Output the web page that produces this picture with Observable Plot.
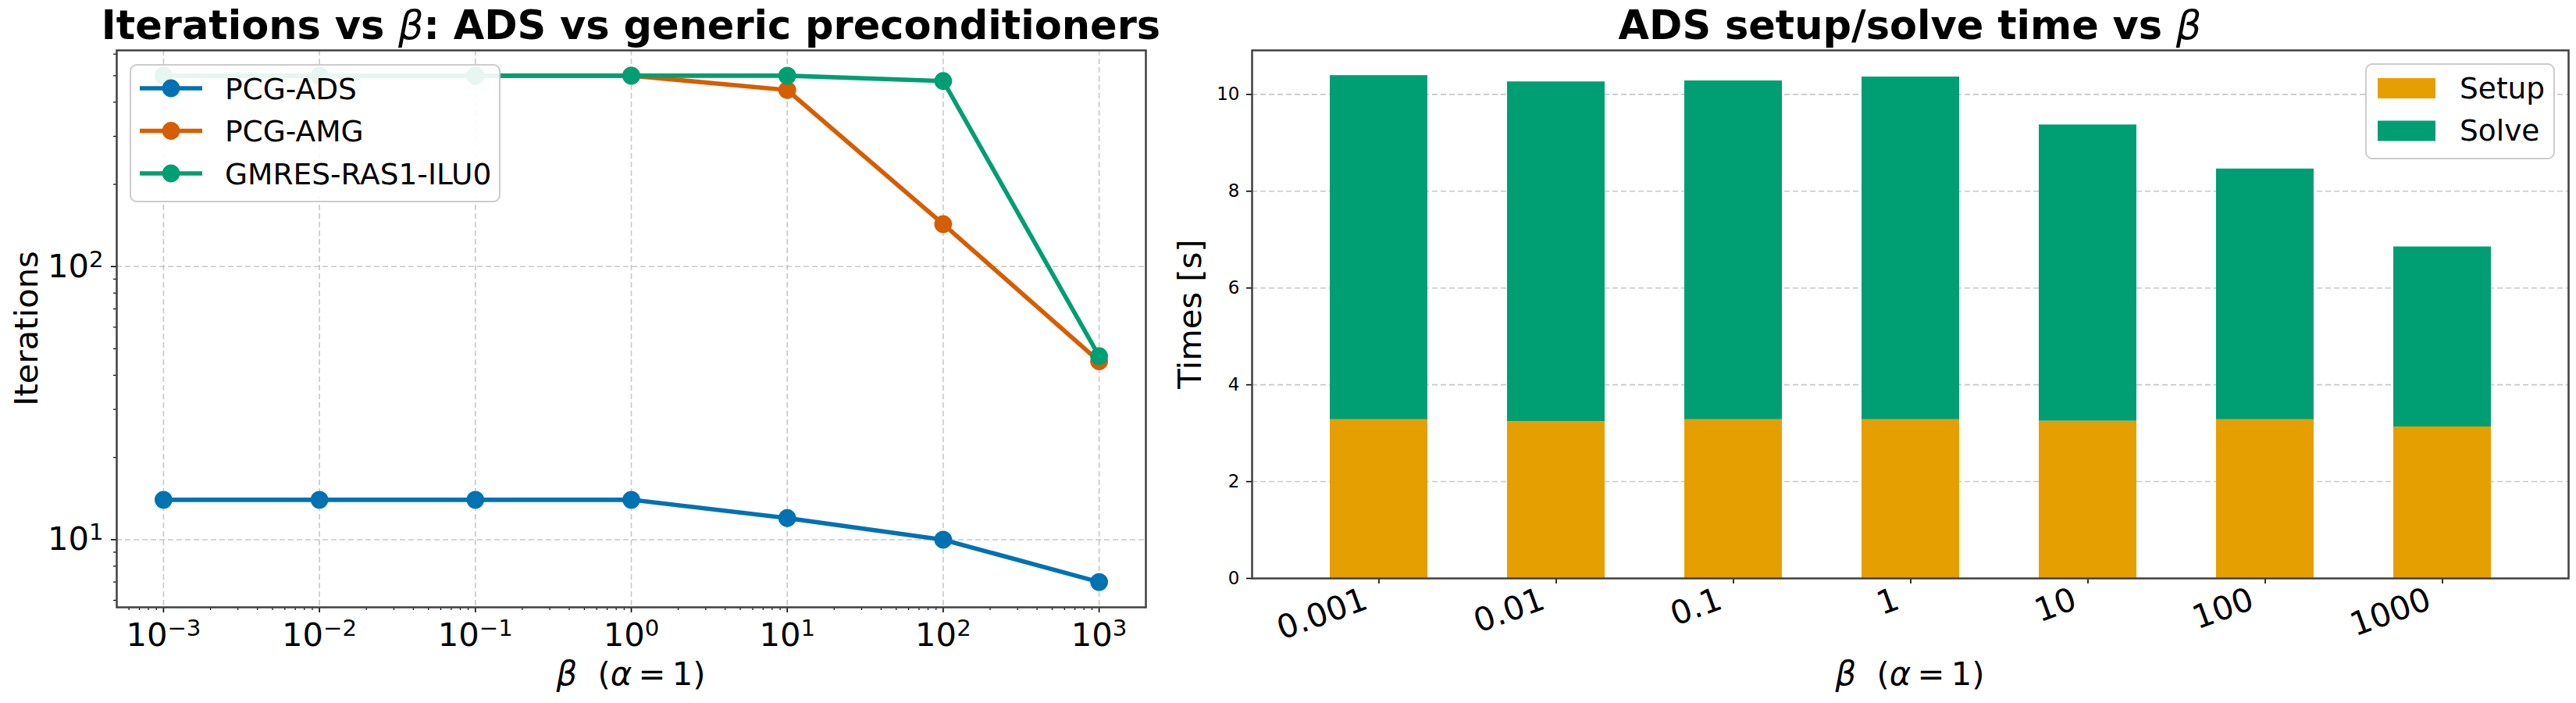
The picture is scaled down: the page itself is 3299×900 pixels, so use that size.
<!DOCTYPE html>
<html>
<head>
<meta charset="utf-8">
<script src="https://cdn.jsdelivr.net/npm/d3@7"></script>
<script src="https://cdn.jsdelivr.net/npm/@observablehq/plot@0.6"></script>
<style>
  html, body { margin: 0; padding: 0; background: #fff; }
  #fig { position: relative; width: 3299px; height: 900px; overflow: hidden; font-family: "DejaVu Sans", sans-serif; }
  #fig svg { position: absolute; top: 0; max-width: none; }
</style>
</head>
<body>
<div id="fig"></div>
<script>
// ---- data ----
const betaValues = [1e-3, 1e-2, 1e-1, 1, 10, 100, 1000];
const betaLabels = ["0.001", "0.01", "0.1", "1", "10", "100", "1000"];

const solverNames = ["PCG-ADS", "PCG-AMG", "GMRES-RAS1-ILU0"];
const itersADS = [14, 14, 14, 14, 12, 10, 7];
const itersAMG = [500, 500, 500, 500, 443, 143, 45];
const itersGMRES = [500, 500, 500, 500, 500, 478, 47];
const solverColors = ["#0072B2", "#D55E00", "#009E73"];

const phaseNames = ["Setup", "Solve"];
const setupTimes = [3.28, 3.24, 3.28, 3.28, 3.25, 3.28, 3.13];
const solveTimes = [7.11, 7.02, 7.00, 7.08, 6.12, 5.18, 3.72];
const phaseColors = ["#E69F00", "#009E73"];

const betaTicks = [1e-3, 1e-2, 1e-1, 1, 10, 100, 1000];
const iterTicks = [10, 100];
const timeTicks = [0, 2, 4, 6, 8, 10];

// ---- helpers ----
const FONT = "'DejaVu Sans', sans-serif";
const fig = document.getElementById("fig");

function logPad(lo, hi) {
  const a = Math.log10(lo), b = Math.log10(hi), m = (b - a) * 0.05;
  return [10 ** (a - m), 10 ** (b + m)];
}
function minorLog([lo, hi]) {
  const out = [];
  for (let k = Math.floor(Math.log10(lo)); k <= Math.ceil(Math.log10(hi)); k++)
    for (let m = 2; m <= 9; m++) { const v = m * 10 ** k; if (v >= lo && v <= hi) out.push(v); }
  return out;
}
const fmtPow = d => "10^" + Math.round(Math.log10(d));

// turn "10^k" tick strings into 10 with a raised exponent
function superscripts(svg) {
  d3.select(svg).selectAll("text").each(function () {
    const m = /^10\^(-?\d+)$/.exec(this.textContent);
    if (!m) return;
    const t = d3.select(this);
    t.text(null);
    t.append("tspan").text("10");
    t.append("tspan").attr("dy", "-0.45em").attr("font-size", "0.7em").text(m[1].replace("-", "\u2212"));
  });
}
function richText(svg, x, y, parts, {size, weight = "normal", rotate = 0}) {
  const t = d3.select(svg).append("text")
    .attr("transform", `translate(${x},${y}) rotate(${rotate})`)
    .attr("text-anchor", "middle").attr("font-size", size).attr("font-weight", weight)
    .attr("font-family", FONT).attr("fill", "black").style("white-space", "pre");
  for (const [s, italic] of parts) {
    const ts = t.append("tspan").text(s);
    if (italic) ts.attr("font-style", "italic").attr("font-weight", "normal");
  }
}

const gridStyle = {stroke: "#b0b0b0", strokeOpacity: 0.7, strokeWidth: 1.6, strokeDasharray: "7,4"};
const frameStyle = {stroke: "#404040", strokeWidth: 2.5};
const svgStyle = {fontFamily: FONT, color: "black", background: "transparent", overflow: "visible"};

// ---- left panel: iterations vs beta (log-log) ----
const series = [itersADS, itersAMG, itersGMRES];
const iterRows = series.flatMap((vals, i) => vals.map((v, j) => ({solver: solverNames[i], beta: betaValues[j], iters: v})));
const xDom = logPad(d3.min(betaValues), d3.max(betaValues));
const yDom = logPad(d3.min(iterRows, d => d.iters), d3.max(iterRows, d => d.iters));

const left = Plot.plot({
  width: 1490, height: 900,
  marginLeft: 149, marginRight: 23, marginTop: 64, marginBottom: 123,
  style: svgStyle,
  x: {type: "log", domain: xDom, axis: null, label: null},
  y: {type: "log", domain: yDom, axis: null, label: null},
  marks: [
    Plot.gridX(betaTicks, gridStyle),
    Plot.gridY(iterTicks, gridStyle),
    ...solverNames.flatMap((name, i) => {
      const rows = iterRows.filter(d => d.solver === name);
      return [
        Plot.line(rows, {x: "beta", y: "iters", stroke: solverColors[i], strokeWidth: 5.6, strokeLinejoin: "round"}),
        Plot.dot(rows, {x: "beta", y: "iters", fill: solverColors[i], r: 11.4})
      ];
    }),
    Plot.axisX(minorLog(xDom), {tickSize: 4, strokeWidth: 1.2, tickFormat: () => "", label: null}),
    Plot.axisX(betaTicks, {tickSize: 7, strokeWidth: 1.6, tickPadding: 13, tickFormat: fmtPow, fontSize: 41.7, label: null}),
    Plot.axisY(minorLog(yDom), {tickSize: 4, strokeWidth: 1.2, tickFormat: () => "", label: null}),
    Plot.axisY(iterTicks, {tickSize: 7, strokeWidth: 1.6, tickPadding: 10, tickFormat: fmtPow, fontSize: 41.7, label: null}),
    Plot.frame(frameStyle)
  ]
});
superscripts(left);
left.style.left = "0px";
fig.appendChild(left);

// legend
{
  const g = d3.select(left).append("g").attr("font-family", FONT).attr("text-anchor", "start");
  g.append("rect").attr("x", 167).attr("y", 83).attr("width", 473).attr("height", 175).attr("rx", 8)
    .attr("fill", "white").attr("fill-opacity", 0.9).attr("stroke", "#cccccc").attr("stroke-width", 2);
  solverNames.forEach((name, i) => {
    const cy = 113 + i * 54.5;
    g.append("line").attr("x1", 179).attr("x2", 259).attr("y1", cy).attr("y2", cy)
      .attr("stroke", solverColors[i]).attr("stroke-width", 5.6);
    g.append("circle").attr("cx", 219).attr("cy", cy).attr("r", 11.4).attr("fill", solverColors[i]);
    g.append("text").attr("x", 288).attr("y", cy + 13.5).attr("text-anchor", "start")
      .attr("font-size", 37.5).attr("fill", "black").text(name);
  });
}
richText(left, 808, 50, [["Iterations vs "], ["β", true], [": ADS vs generic preconditioners"]], {size: 51, weight: "bold"});
richText(left, 48, 420.5, [["Iterations"]], {size: 41.7, rotate: -90});
richText(left, 808, 877, [["β", true], ["  ("], ["α", true], ["\u2009=\u20091)"]], {size: 41.7});

// ---- right panel: stacked setup/solve times ----
const timeRows = betaLabels.flatMap((b, j) => [
  {beta: b, phase: phaseNames[0], t: setupTimes[j]},
  {beta: b, phase: phaseNames[1], t: solveTimes[j]}
]);
const tMax = d3.max(betaLabels, (b, j) => setupTimes[j] + solveTimes[j]) * 1.05;

const right = Plot.plot({
  width: 1809, height: 900,
  marginLeft: 113, marginRight: 10, marginTop: 64, marginBottom: 160,
  style: svgStyle,
  x: {type: "band", domain: betaLabels, paddingInner: 0.45, paddingOuter: 0.4225, axis: null, label: null},
  y: {domain: [0, tMax], axis: null, label: null},
  color: {domain: phaseNames, range: phaseColors},
  marks: [
    Plot.gridY(timeTicks.filter(v => v > 0), gridStyle),
    Plot.barY(timeRows, Plot.stackY({x: "beta", y: "t", fill: "phase", inset: 0})),
    Plot.axisY(timeTicks, {tickSize: 7, strokeWidth: 1.6, tickPadding: 9, fontSize: 23, tickFormat: d => String(d), label: null}),
    Plot.axisX({tickSize: 7, strokeWidth: 1.6, tickFormat: () => "", label: null}),
    Plot.text(betaLabels, {x: d => d, frameAnchor: "bottom", dx: -12, dy: 38, rotate: -20, textAnchor: "end", fontSize: 41.7}),
    Plot.frame(frameStyle)
  ]
});
right.style.left = "1490px";
fig.appendChild(right);

// legend
{
  const g = d3.select(right).append("g").attr("font-family", FONT).attr("text-anchor", "start");
  g.append("rect").attr("x", 1540).attr("y", 82).attr("width", 241).attr("height", 121).attr("rx", 8)
    .attr("fill", "white").attr("fill-opacity", 0.9).attr("stroke", "#cccccc").attr("stroke-width", 2);
  phaseNames.forEach((name, i) => {
    const top = 100 + i * 54.5;
    g.append("rect").attr("x", 1555).attr("y", top).attr("width", 74).attr("height", 26).attr("fill", phaseColors[i]);
    g.append("text").attr("x", 1660).attr("y", top + 25.5).attr("text-anchor", "start")
      .attr("font-size", 37.5).attr("fill", "black").text(name);
  });
}
richText(right, 956, 50, [["ADS setup/solve time vs "], ["β", true]], {size: 51, weight: "bold"});
richText(right, 48, 402, [["Times [s]"]], {size: 41.7, rotate: -90});
richText(right, 956, 877, [["β", true], ["  ("], ["α", true], ["\u2009=\u20091)"]], {size: 41.7});
</script>
</body>
</html>
